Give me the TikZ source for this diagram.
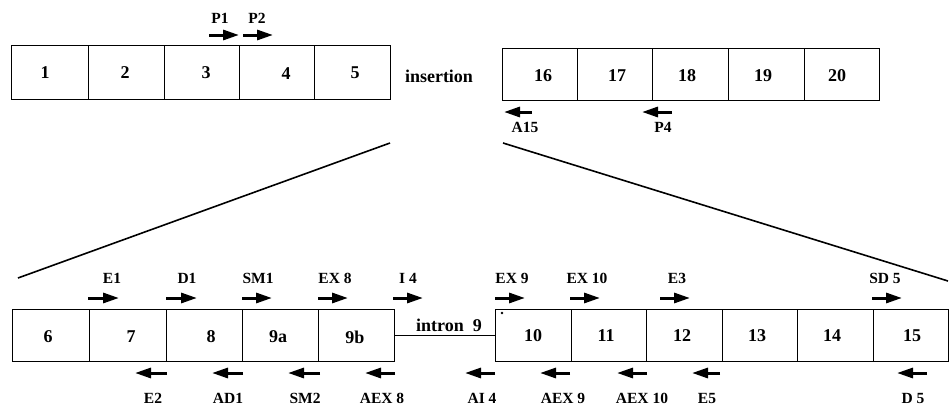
\documentclass[tikz,border=0pt]{standalone}
\usepackage{fontspec}
\setmainfont{Liberation Serif}
\usetikzlibrary{arrows.meta}
\begin{document}
\begin{tikzpicture}[x=1pt,y=-1pt,
  exon/.style={draw=black, line width=1.4pt, inner sep=0pt, anchor=north west},
  num/.style={font=\fontsize{18}{18}\selectfont\bfseries, inner sep=0pt},
  plab/.style={font=\fontsize{15.5}{16}\selectfont\bfseries, inner sep=0pt},
  word/.style={font=\fontsize{18}{18}\selectfont\bfseries, inner sep=0pt},
  primer/.style={line width=3pt, -{Triangle[length=16pt,width=10pt]}},
  zoomline/.style={line width=1.6pt},
  introncon/.style={line width=1.4pt}]
\useasboundingbox (0,0) rectangle (951,407);
% ---------- top left row ----------
\node[exon, minimum width=77pt, minimum height=54pt] (e1) at (11,45) {};
\node[exon, minimum width=76pt, minimum height=54pt] (e2) at (88,45) {};
\node[exon, minimum width=75pt, minimum height=54pt] (e3) at (164,45) {};
\node[exon, minimum width=75pt, minimum height=54pt] (e4) at (239,45) {};
\node[exon, minimum width=76pt, minimum height=54pt] (e5) at (314,45) {};
\node[num] (t1) at (45,73) {1};
\node[num] (t2) at (125,73) {2};
\node[num] (t3) at (206,73) {3};
\node[num] (t4) at (286,74) {4};
\node[num] (t5) at (355,73) {5};
\node[word] (ins) at (439,76) {insertion};
% ---------- top right row ----------
\node[exon, minimum width=75pt, minimum height=52pt] (e16) at (502,48) {};
\node[exon, minimum width=75pt, minimum height=52pt] (e17) at (577,48) {};
\node[exon, minimum width=76pt, minimum height=52pt] (e18) at (652,48) {};
\node[exon, minimum width=76pt, minimum height=52pt] (e19) at (728,48) {};
\node[exon, minimum width=75pt, minimum height=52pt] (e20) at (804,48) {};
\node[num] (t16) at (543,76) {16};
\node[num] (t17) at (617,76) {17};
\node[num] (t18) at (687,76) {18};
\node[num] (t19) at (763,76) {19};
\node[num] (t20) at (837,76) {20};
% top primers
\node[plab] (p1) at (220,18) {P1};
\node[plab] (p2) at (257,18) {P2};
\draw[primer] (209,35) -- (239,35);
\draw[primer] (243,35) -- (273,35);
\draw[primer] (532,112) -- (504,112);
\draw[primer] (672,112) -- (642,112);
\node[plab] (a15) at (525,127) {A15};
\node[plab] (p4) at (663,127) {P4};
% ---------- zoom lines ----------
\draw[zoomline] (390,143) -- (18,278);
\draw[zoomline] (503,143) -- (948,281);
% ---------- bottom row ----------
\node[exon, minimum width=77pt, minimum height=52pt] (e6) at (12,309) {};
\node[exon, minimum width=77pt, minimum height=52pt] (e7) at (89,309) {};
\node[exon, minimum width=76pt, minimum height=52pt] (e8) at (166,309) {};
\node[exon, minimum width=76pt, minimum height=52pt] (e9a) at (242,309) {};
\node[exon, minimum width=76pt, minimum height=52pt] (e9b) at (318,309) {};
\node[exon, minimum width=76pt, minimum height=52pt] (e10) at (495,309) {};
\node[exon, minimum width=75pt, minimum height=52pt] (e11) at (571,309) {};
\node[exon, minimum width=76pt, minimum height=52pt] (e12) at (646,309) {};
\node[exon, minimum width=75pt, minimum height=52pt] (e13) at (722,309) {};
\node[exon, minimum width=76pt, minimum height=52pt] (e14) at (797,309) {};
\node[exon, minimum width=75pt, minimum height=52pt] (e15) at (873,309) {};
\draw[introncon] (e9b.east) -- (e10.west);
\node[word] (intr) at (449,325) {intron\ \ 9};
\fill (502,313) circle (1.3pt);
\node[num] (t6) at (48,337) {6};
\node[num] (t7) at (131,337) {7};
\node[num] (t8) at (211,337) {8};
\node[num] (t9a) at (278,337) {9a};
\node[num] (t9b) at (355,337) {9b};
\node[num] (t10) at (533,336) {10};
\node[num] (t11) at (606,336) {11};
\node[num] (t12) at (682,336) {12};
\node[num] (t13) at (757,336) {13};
\node[num] (t14) at (832,336) {14};
\node[num] (t15) at (912,336) {15};
% forward primers
\draw[primer] (88,298) -- (119,298);
\draw[primer] (166,298) -- (197,298);
\draw[primer] (242,298) -- (272,298);
\draw[primer] (318,298) -- (348,298);
\draw[primer] (393,298) -- (423,298);
\draw[primer] (495,298) -- (525,298);
\draw[primer] (570,298) -- (600,298);
\draw[primer] (660,298) -- (690,298);
\draw[primer] (872,298) -- (902,298);
\node[plab] (lE1) at (112,278) {E1};
\node[plab] (lD1) at (187,278) {D1};
\node[plab] (lSM1) at (258,278) {SM1};
\node[plab] (lEX8) at (335,278) {EX 8};
\node[plab] (lI4) at (408,278) {I 4};
\node[plab] (lEX9) at (512,278) {EX 9};
\node[plab] (lEX10) at (587,278) {EX 10};
\node[plab] (lE3) at (677,278) {E3};
\node[plab] (lSD5) at (885,278) {SD 5};
% reverse primers
\draw[primer] (167,373) -- (135,373);
\draw[primer] (243,373) -- (212,373);
\draw[primer] (320,373) -- (288,373);
\draw[primer] (395,373) -- (365,373);
\draw[primer] (495,373) -- (465,373);
\draw[primer] (570,373) -- (540,373);
\draw[primer] (647,373) -- (617,373);
\draw[primer] (720,373) -- (692,373);
\draw[primer] (927,373) -- (897,373);
\node[plab] (lE2) at (153,398) {E2};
\node[plab] (lAD1) at (228,398) {AD1};
\node[plab] (lSM2) at (305,398) {SM2};
\node[plab] (lAEX8) at (382,398) {AEX 8};
\node[plab] (lAI4) at (482,398) {AI 4};
\node[plab] (lAEX9) at (563,398) {AEX 9};
\node[plab] (lAEX10) at (642,398) {AEX 10};
\node[plab] (lE5) at (707,398) {E5};
\node[plab] (lD5) at (913,398) {D 5};
\end{tikzpicture}
\end{document}
